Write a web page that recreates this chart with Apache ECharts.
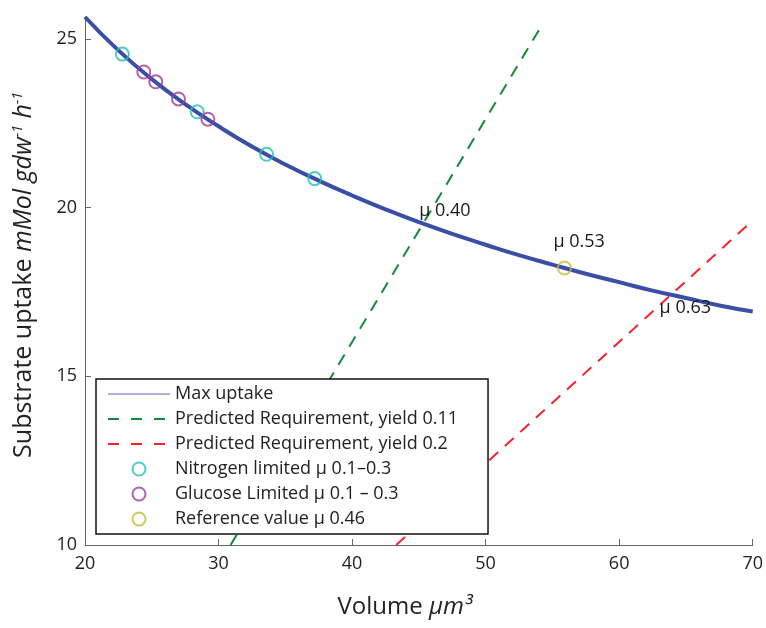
<!DOCTYPE html>
<html>
<head>
<meta charset="utf-8">
<style>
  html, body { margin: 0; padding: 0; background: #fff; }
  #chart { width: 766px; height: 628px; }
</style>
<script src="https://cdn.jsdelivr.net/npm/echarts@6/dist/echarts.min.js"></script>
</head>
<body>
<div id="chart"></div>
<script>
// Maximum substrate uptake against cell volume
const maxUptake = [
  [20, 25.65], [22.5, 24.66], [25, 23.81], [27.5, 23.07], [30, 22.41],
  [32.5, 21.81], [35, 21.28], [37.5, 20.80], [40, 20.36], [42.5, 19.95],
  [45, 19.57], [47.5, 19.22], [50, 18.90], [52.5, 18.59], [55, 18.31],
  [57.5, 18.04], [60, 17.79], [62.5, 17.54], [65, 17.32], [67.5, 17.10],
  [70, 16.92]
];
// Predicted requirement lines (end points)
const reqYield011 = [[30.9, 10], [54.2, 25.40]];
const reqYield02 = [[43.3, 10], [70, 19.62]];
// Measured points
const nitrogenLimited = [[22.8, 24.55], [28.4, 22.84], [33.6, 21.58], [37.2, 20.86]];
const glucoseLimited = [[24.4, 24.02], [25.3, 23.73], [27.0, 23.22], [29.2, 22.62]];
const referenceValue = [[55.9, 18.21]];
// Growth-rate annotations at the crossings
const muLabels = [
  { value: [45.4, 19.56], text: 'μ 0.40' },
  { value: [55.9, 18.21], text: 'μ 0.53' },
  { value: [63.7, 17.40], text: 'μ 0.63' }
];
const labelOffsets = [[-5, -12], [-11, -26], [-9, 13]];

const xTicks = [20, 30, 40, 50, 60, 70];
const yTicks = [10, 15, 20, 25];

const FONT = 'Open Sans';
const names = [
  'Max uptake',
  'Predicted Requirement, yield 0.11',
  'Predicted Requirement, yield 0.2',
  'Nitrogen limited μ 0.1–0.3',
  'Glucose Limited μ 0.1 – 0.3',
  'Reference value μ 0.46'
];
const colors = {
  curve: '#3a4ea6',
  green: '#128a3c',
  red: '#f5212c',
  cyan: '#22bfc0',
  purple: '#a03a98',
  yellow: '#bfbd33'
};

const chart = echarts.init(document.getElementById('chart'), null, { renderer: 'canvas' });

// Open circle markers: hollow, so the curve shows through
const circleSeries = (name, data, color) => ({
  name, type: 'scatter', data,
  symbol: 'circle', symbolSize: 13,
  itemStyle: { color: 'rgba(255,255,255,0)', borderColor: color, borderWidth: 2 },
  z: 5
});

// Legend entries for the line series show only the stroke
const lineLegend = (name, lineStyle) => ({ name, lineStyle, itemStyle: { opacity: 0 } });
const circleLegend = (name) => ({ name, itemStyle: { borderWidth: 2 } });

chart.setOption({
  animation: false,
  textStyle: { fontFamily: FONT },
  grid: { left: 85, right: 11, top: 17, bottom: 83, containLabel: false },
  xAxis: {
    type: 'value', min: 20, max: 70, interval: 10,
    axisLine: { lineStyle: { color: '#666', width: 1 } },
    axisTick: { inside: true, length: 6, lineStyle: { color: '#666' }, customValues: xTicks },
    axisLabel: { fontSize: 18, color: '#222', margin: 10, customValues: xTicks },
    splitLine: { show: false },
    name: '{n|Volume }{i|μm³}',
    nameLocation: 'middle', nameGap: 50,
    nameTextStyle: {
      padding: [0, 28, 0, 0],
      rich: {
        n: { fontSize: 24, color: '#222', fontFamily: FONT },
        i: { fontSize: 24, color: '#222', fontStyle: 'italic', fontFamily: FONT }
      }
    }
  },
  yAxis: {
    type: 'value', min: 10, max: 25.65,
    axisLine: { show: true, lineStyle: { color: '#666', width: 1 } },
    axisTick: { show: true, inside: true, length: 6, lineStyle: { color: '#666' }, customValues: yTicks },
    axisLabel: { fontSize: 18, color: '#222', margin: 8, customValues: yTicks },
    splitLine: { show: false },
    name: '{n|Substrate uptake }{i|mMol gdw}{s|-1}{i| h}{s|-1}',
    nameLocation: 'middle', nameGap: 48,
    nameTextStyle: {
      padding: [0, 0, 0, 12],
      rich: {
        n: { fontSize: 25, color: '#222', fontFamily: FONT },
        i: { fontSize: 25, color: '#222', fontStyle: 'italic', fontFamily: FONT },
        s: { fontSize: 14, color: '#222', fontStyle: 'italic', fontFamily: FONT, verticalAlign: 'top', padding: [0, 0, 12, 0] }
      }
    }
  },
  legend: {
    orient: 'vertical',
    left: 96, top: 379,
    padding: [6, 30, 6, 11],
    itemGap: 7,
    itemWidth: 62, itemHeight: 13,
    backgroundColor: '#fff',
    borderColor: '#111', borderWidth: 1.5,
    textStyle: { fontSize: 18, color: '#222', fontFamily: FONT, lineHeight: 18 },
    data: [
      lineLegend(names[0], { width: 1.2, color: '#5566b2' }),
      lineLegend(names[1], { width: 2, type: [11, 12] }),
      lineLegend(names[2], { width: 2, type: [11, 12] }),
      circleLegend(names[3]),
      circleLegend(names[4]),
      circleLegend(names[5])
    ]
  },
  series: [
    {
      name: names[0], type: 'line', data: maxUptake, smooth: true,
      symbol: 'none', lineStyle: { color: colors.curve, width: 4 },
      itemStyle: { color: colors.curve }, z: 3
    },
    {
      name: names[1], type: 'line', data: reqYield011, symbol: 'none',
      lineStyle: { color: colors.green, width: 2, type: [12, 9] },
      itemStyle: { color: colors.green }, z: 2
    },
    {
      name: names[2], type: 'line', data: reqYield02, symbol: 'none',
      lineStyle: { color: colors.red, width: 2, type: [12, 9] },
      itemStyle: { color: colors.red }, z: 2
    },
    circleSeries(names[3], nitrogenLimited, colors.cyan),
    circleSeries(names[4], glucoseLimited, colors.purple),
    circleSeries(names[5], referenceValue, colors.yellow),
    {
      type: 'scatter', silent: true, z: 6,
      symbol: 'circle', symbolSize: 0, itemStyle: { color: '#222' },
      data: muLabels.map((m, i) => ({
        value: m.value,
        label: {
          show: true, formatter: m.text, position: [0, 0],
          offset: labelOffsets[i], align: 'left', verticalAlign: 'middle',
          fontSize: 18, color: '#1a1a1a', opacity: 1, fontFamily: FONT
        }
      }))
    }
  ]
});
</script>
</body>
</html>
